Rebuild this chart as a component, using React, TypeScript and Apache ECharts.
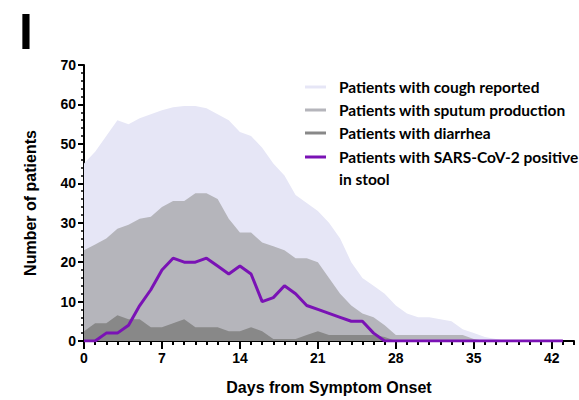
import React, { useEffect, useRef } from "react";
import * as echarts from "echarts";

const coughDays = [0,1,2,3,4,5,6,7,8,9,10,11,12,13,14,15,16,17,18,19,20,21,22,23,24,25,26,27,28,29,30,31,32,33,34,35,36,37,38];
const coughValues = [45,48,52,56,55,56.5,57.5,58.5,59.3,59.6,59.6,59,57.5,56,53,52,49,45,42,37,35,33,30,26,20,16,14,12,9,7,6,6,5.5,5,3,2,1,0.5,0];

const sputumDays = [0,1,2,3,4,5,6,7,8,9,10,11,12,13,14,15,16,17,18,19,20,21,22,23,24,25,26,27,28,29,30,31,32,33,34,35,36];
const sputumValues = [23,24.5,26,28.5,29.5,31,31.5,34,35.5,35.5,37.5,37.5,36,31,27.5,27.5,25,24,23,21,21,20,16,12,9,7,6,4,1.5,1.5,1.5,1.5,1.5,1.5,1.5,0.5,0];

const diarrheaDays = [0,1,2,3,4,5,6,7,8,9,10,11,12,13,14,15,16,17,18,19,20,21,22,23,24,25,26,27,28];
const diarrheaValues = [2.5,4.5,4.5,6.5,5.5,5.5,3.5,3.5,4.5,5.5,3.5,3.5,3.5,2.5,2.5,3.5,2.5,0.5,0.5,0.5,1.5,2.5,1.5,1.5,1.5,1.5,1.5,1,0];

const stoolDays = [0,1,2,3,4,5,6,7,8,9,10,11,12,13,14,15,16,17,18,19,20,21,22,23,24,25,26,27,28,29,30,31,32,33,34,35,36,37,38,39,40,41,42,43];
const stoolValues = [0,0,2,2,4,9,13,18,21,20,20,21,19,17,19,17,10,11,14,12,9,8,7,6,5,5,2,0,0,0,0,0,0,0,0,0,0,0,0,0,0,0,0,0];

const legendNames = [
  "Patients with cough reported",
  "Patients with sputum production",
  "Patients with diarrhea",
  "Patients with SARS-CoV-2 positive\nin stool",
];

const COLORS = {
  cough: "#e6e6f6",
  sputum: "#b5b5bb",
  diarrhea: "#888888",
  stool: "#7a12b5",
};

const pairs = (xs: number[], ys: number[]) => xs.map((x, i) => [x, ys[i]]);

export default function App() {
  const ref = useRef<HTMLDivElement>(null);
  useEffect(() => {
    if (!ref.current) return;
    const chart = echarts.init(ref.current, null, { renderer: "svg" });
    const axisFont = { fontFamily: "Liberation Sans", fontWeight: "bold" as const, fontSize: 14, color: "#000" };
    const legendColors = [COLORS.cough, COLORS.sputum, COLORS.diarrhea, COLORS.stool];
    const legendY = [87, 110, 133, 157];
    const legendGraphics: any[] = [];
    legendNames.forEach((name, i) => {
      legendGraphics.push({
        type: "rect",
        shape: { x: 305, y: legendY[i] - 1.5, width: 21, height: 3 },
        style: { fill: legendColors[i] },
      });
      legendGraphics.push({
        type: "text",
        x: 339,
        y: legendY[i] - 11.5,
        style: {
          text: name,
          fontFamily: "Lato",
          fontWeight: "bold",
          fontSize: 15.5,
          lineHeight: 22,
          fill: "#000",
          textVerticalAlign: "top",
        },
      });
    });

    chart.setOption({
      animation: false,
      grid: { left: 84, right: 5, top: 65, bottom: 55, containLabel: false },
      xAxis: [
        {
          type: "value",
          min: 0,
          max: 44,
          interval: 7,
          name: "Days from Symptom Onset",
          nameLocation: "middle",
          nameGap: 38,
          nameTextStyle: { ...axisFont, fontSize: 16 },
          axisLine: { show: true, onZero: false, lineStyle: { color: "#000", width: 2 } },
          axisTick: { show: true, length: 8, lineStyle: { color: "#000", width: 2 } },
          axisLabel: { ...axisFont, margin: 10, showMaxLabel: false },
          splitLine: { show: false },
        },
        {
          type: "value",
          position: "bottom",
          min: 0,
          max: 44,
          interval: 1,
          axisLine: { show: false, onZero: false },
          axisTick: { show: true, length: 4, lineStyle: { color: "#000", width: 2 } },
          axisLabel: { show: false },
          splitLine: { show: false },
        },
      ],
      yAxis: {
        type: "value",
        min: 0,
        max: 70,
        interval: 10,
        name: "Number of patients",
        nameLocation: "middle",
        nameGap: 46,
        nameTextStyle: { ...axisFont, fontSize: 16 },
        axisLine: { show: true, lineStyle: { color: "#000", width: 2 } },
        axisTick: { show: true, length: 6, lineStyle: { color: "#000", width: 2 } },
        minorTick: { show: true, splitNumber: 5, length: 3, lineStyle: { color: "#000", width: 1.5 } },
        axisLabel: { ...axisFont, margin: 8 },
        splitLine: { show: false },
      },
      series: [
        {
          name: legendNames[0],
          type: "line",
          data: pairs(coughDays, coughValues),
          symbol: "none",
          lineStyle: { width: 0 },
          areaStyle: { color: COLORS.cough, opacity: 1 },
          z: 1,
        },
        {
          name: legendNames[1],
          type: "line",
          data: pairs(sputumDays, sputumValues),
          symbol: "none",
          lineStyle: { width: 0 },
          areaStyle: { color: COLORS.sputum, opacity: 1 },
          z: 2,
        },
        {
          name: legendNames[2],
          type: "line",
          data: pairs(diarrheaDays, diarrheaValues),
          symbol: "none",
          lineStyle: { width: 0 },
          areaStyle: { color: COLORS.diarrhea, opacity: 1 },
          z: 3,
        },
        {
          name: legendNames[3],
          type: "line",
          data: pairs(stoolDays, stoolValues),
          symbol: "none",
          lineStyle: { width: 3, color: COLORS.stool },
          z: 4,
        },
      ],
      graphic: [
        {
          type: "text",
          x: 19,
          y: 32,
          style: {
            text: "I",
            fontFamily: "Liberation Sans",
            fontWeight: "bold",
            fontSize: 50,
            fill: "#000",
            textVerticalAlign: "middle",
          },
        },
        ...legendGraphics,
      ],
    });
    return () => chart.dispose();
  }, []);
  return <div ref={ref} style={{ width: 579, height: 400, position: "absolute", left: 0, top: 0 }} />;
}
